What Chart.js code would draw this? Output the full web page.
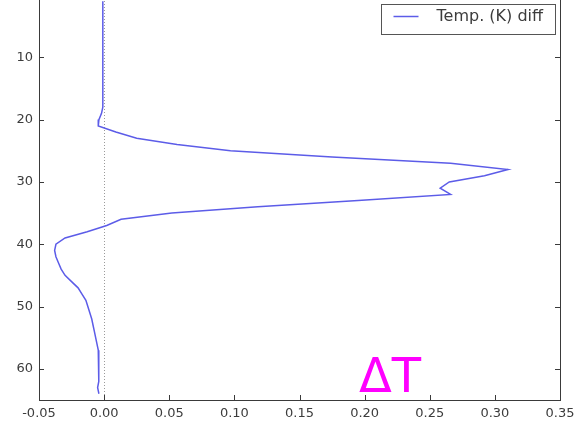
<!DOCTYPE html>
<html>
<head>
<meta charset="utf-8">
<script src="https://cdn.jsdelivr.net/npm/chart.js@4/dist/chart.umd.min.js"></script>
<style>
  html, body { margin: 0; padding: 0; background: #fff; overflow: hidden; }
  body { width: 576px; height: 422px; position: relative; }
  #wrap { position: absolute; left: 0; top: -5px; width: 576px; height: 427px; }
</style>
</head>
<body>
<div id="wrap"><canvas id="c" width="576" height="427"></canvas></div>
<script>
// Model levels (vertical index, increasing downward)
const levels = [
  1, 2, 3, 4, 5, 6, 7, 8, 9, 10,
  11, 12, 13, 14, 15, 16, 17, 18, 19, 20,
  21, 22, 23, 24, 25, 26, 27, 28, 29, 30,
  31, 32, 33, 34, 35, 36, 37, 38, 39, 40,
  41, 42, 43, 44, 45, 46, 47, 48, 49, 50,
  51, 52, 53, 54, 55, 56, 57, 58, 59, 60,
  61, 62, 63, 64
];

// Temperature difference (K) at each level
const tempDiff = [
  -0.001, -0.001, -0.001, -0.001, -0.001, -0.001, -0.001, -0.001, -0.001, -0.001,
  -0.001, -0.001, -0.001, -0.001, -0.001, -0.001, -0.001, -0.001, -0.002, -0.004,
  -0.0045, 0.009, 0.025, 0.056, 0.097, 0.175, 0.266, 0.310, 0.292, 0.265,
  0.258, 0.266, 0.195, 0.118, 0.052, 0.013, 0.002, -0.013, -0.030, -0.037,
  -0.038, -0.037, -0.035, -0.033, -0.030, -0.025, -0.020, -0.017, -0.014, -0.0125,
  -0.011, -0.0095, -0.0085, -0.0075, -0.0065, -0.0055, -0.0045, -0.004, -0.004, -0.004,
  -0.004, -0.0045, -0.005, -0.004
];

const xTicks = [-0.05, 0.00, 0.05, 0.10, 0.15, 0.20, 0.25, 0.30, 0.35];
const yTicks = [0, 10, 20, 30, 40, 50, 60];

const seriesLabel = 'Temp. (K) diff';
const annotationText = '\u0394T';

const lineColor = 'rgb(92, 92, 232)';
const frameColor = '#3a3a3a';
const textColor = '#3c3c3c';
const legendFont = '16px "DejaVu Sans"';

// Frame, inward ticks on all sides, zero reference line, legend and annotation
const decorations = {
  id: 'decorations',
  beforeDatasetsDraw(chart) {
    const { ctx, chartArea: a, scales } = chart;
    const x0 = scales.x.getPixelForValue(0);
    ctx.save();
    ctx.strokeStyle = '#9a9a9a';
    ctx.lineWidth = 1;
    ctx.setLineDash([1, 2]);
    ctx.beginPath();
    ctx.moveTo(Math.round(x0) + 0.5, a.top);
    ctx.lineTo(Math.round(x0) + 0.5, a.bottom);
    ctx.stroke();
    ctx.restore();
  },
  afterDatasetsDraw(chart) {
    const { ctx, chartArea: a, scales } = chart;
    const tl = 5;
    ctx.save();
    ctx.strokeStyle = frameColor;
    ctx.lineWidth = 1;
    ctx.strokeRect(Math.round(a.left) + 0.5, Math.round(a.top) + 0.5,
                   Math.round(a.right - a.left), Math.round(a.bottom - a.top));
    ctx.beginPath();
    xTicks.forEach(v => {
      const px = Math.round(scales.x.getPixelForValue(v)) + 0.5;
      ctx.moveTo(px, a.bottom); ctx.lineTo(px, a.bottom - tl);
      ctx.moveTo(px, a.top); ctx.lineTo(px, a.top + tl);
    });
    yTicks.forEach(v => {
      const py = Math.round(scales.y.getPixelForValue(v)) + 0.5;
      ctx.moveTo(a.left, py); ctx.lineTo(a.left + tl, py);
      ctx.moveTo(a.right, py); ctx.lineTo(a.right - tl, py);
    });
    ctx.stroke();

    // legend box in the upper right
    const boxR = a.right - 6, boxT = a.top + 9, boxH = 30;
    ctx.font = legendFont;
    const tw = ctx.measureText(seriesLabel).width;
    const boxW = tw + 67;
    const boxL = boxR - boxW;
    ctx.fillStyle = '#fff';
    ctx.fillRect(boxL, boxT, boxW, boxH);
    ctx.strokeStyle = '#555';
    ctx.strokeRect(Math.round(boxL) + 0.5, Math.round(boxT) + 0.5, Math.round(boxW), boxH);
    ctx.strokeStyle = lineColor;
    ctx.lineWidth = 1.5;
    ctx.beginPath();
    ctx.moveTo(boxL + 13, boxT + 12.5);
    ctx.lineTo(boxL + 38, boxT + 12.5);
    ctx.stroke();
    ctx.fillStyle = textColor;
    ctx.textBaseline = 'middle';
    ctx.textAlign = 'left';
    ctx.fillText(seriesLabel, boxL + 56, boxT + 13);

    // annotation
    ctx.fillStyle = '#ff00ff';
    ctx.font = '48px "DejaVu Sans"';
    ctx.textBaseline = 'alphabetic';
    ctx.fillText(annotationText, 359, a.top + 397);
    ctx.restore();
  }
};

const fmtTick = v => (Math.abs(v) < 1e-9 ? 0 : Number(v)).toFixed(2);

new Chart(document.getElementById('c'), {
  type: 'scatter',
  data: {
    datasets: [{
      label: seriesLabel,
      data: levels.map((lev, i) => ({ x: tempDiff[i], y: lev })),
      showLine: true,
      borderColor: lineColor,
      borderWidth: 1.5,
      pointRadius: 0,
      tension: 0,
      fill: false
    }]
  },
  options: {
    responsive: false,
    devicePixelRatio: 1,
    animation: false,
    events: [],
    layout: { padding: { left: 0, right: 16, top: 0, bottom: 0 } },
    plugins: { legend: { display: false }, tooltip: { enabled: false } },
    scales: {
      x: {
        type: 'linear',
        min: -0.05,
        max: 0.35,
        border: { display: false },
        grid: { display: false, drawTicks: false },
        ticks: {
          stepSize: 0.05,
          includeBounds: false,
          padding: 6,
          color: textColor,
          font: { family: 'DejaVu Sans', size: 13 },
          maxRotation: 0,
          autoSkip: false,
          callback: fmtTick
        },
        afterFit(s) { s.height = 22; s.paddingLeft = 0; s.paddingRight = 0; }
      },
      y: {
        type: 'linear',
        reverse: true,
        min: 0,
        max: 65,
        border: { display: false },
        grid: { display: false, drawTicks: false },
        ticks: {
          stepSize: 10,
          includeBounds: false,
          padding: 6,
          color: textColor,
          font: { family: 'DejaVu Sans', size: 13 },
          autoSkip: false,
          callback: v => String(v)
        },
        afterFit(s) { s.width = 39; s.paddingTop = 0; s.paddingBottom = 0; }
      }
    }
  },
  plugins: [decorations]
});
</script>
</body>
</html>
